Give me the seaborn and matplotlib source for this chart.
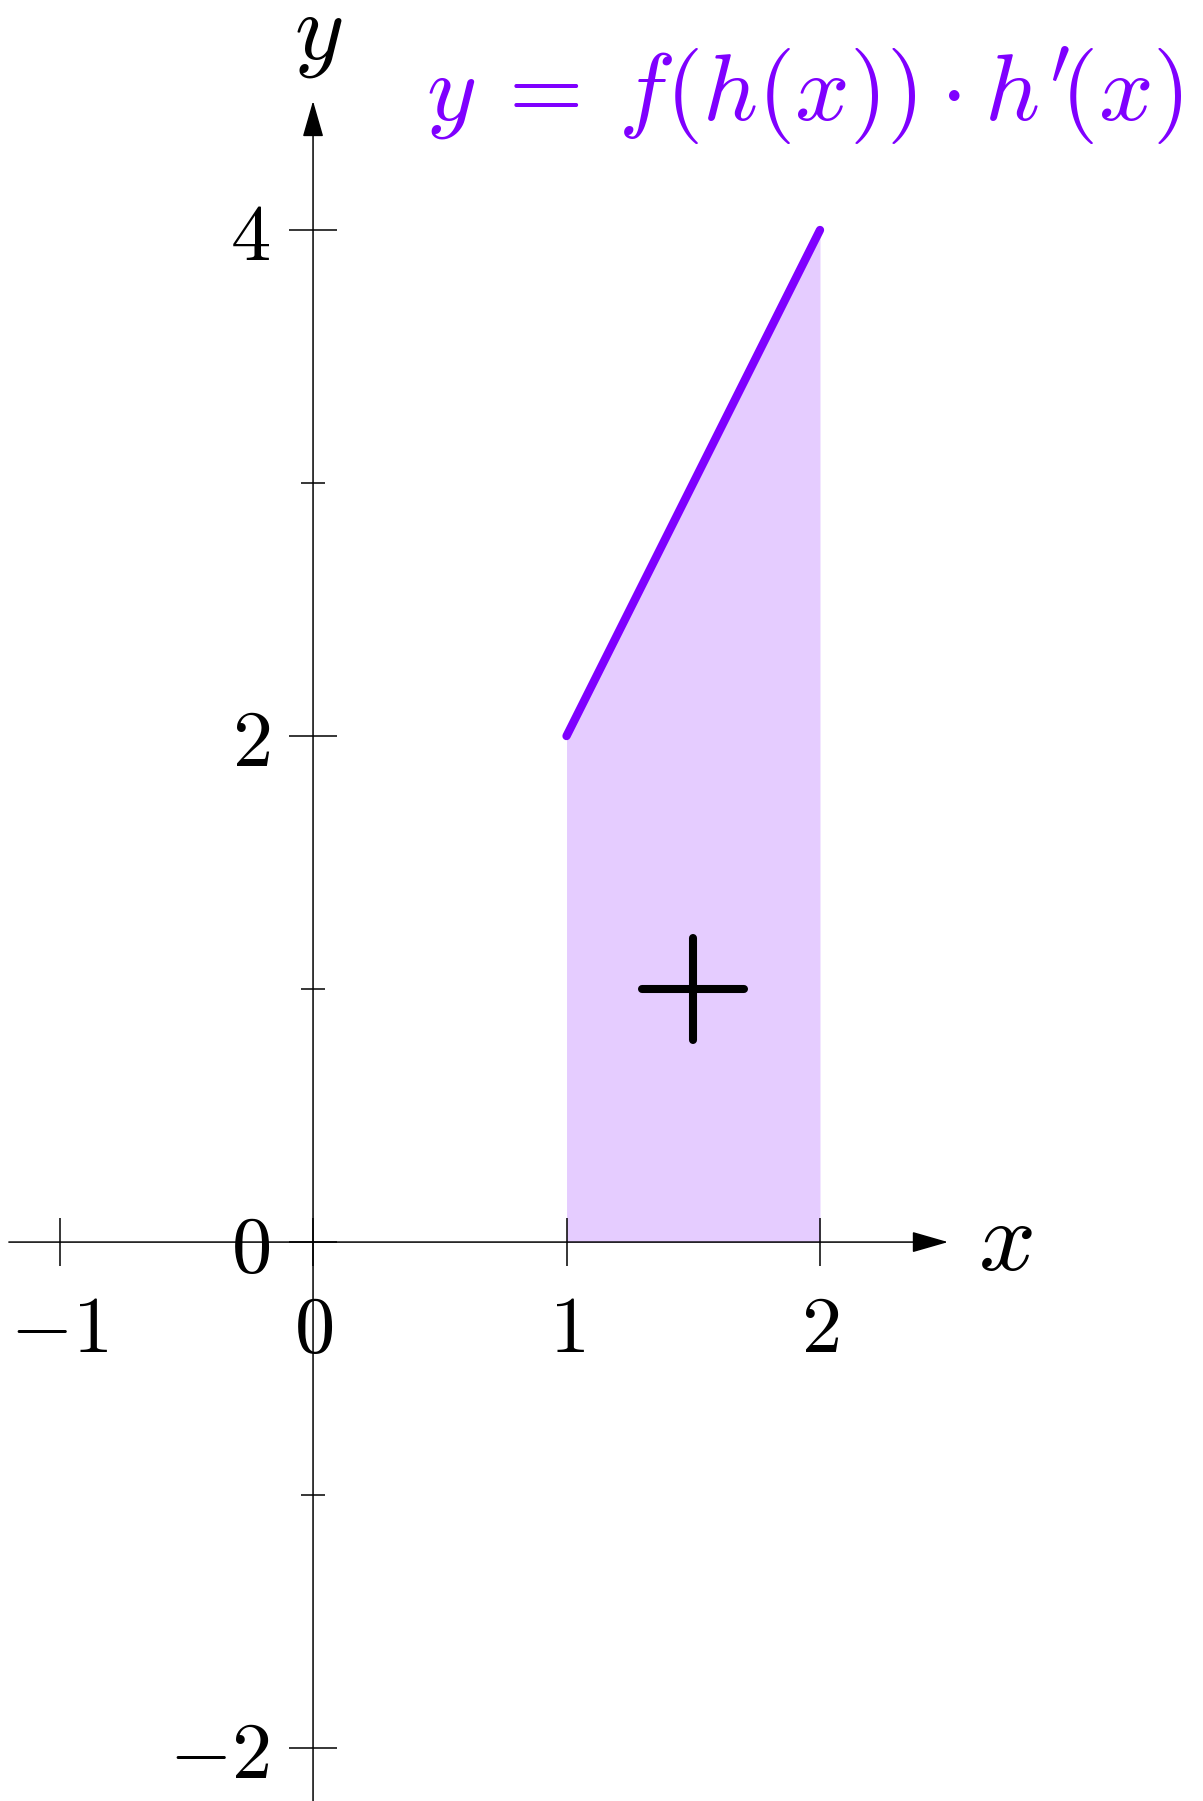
import matplotlib
matplotlib.use("Agg")
import matplotlib.pyplot as plt
from matplotlib.markers import MarkerStyle
import seaborn as sns

# -----------------------------
# Data
# -----------------------------
curve_x = [1, 2]
curve_y = [2, 4]

plus_x = [1.5]
plus_y = [1]

x_ticks = [-1, 0, 1, 2]
x_tick_labels = ["$-1$", "$0$", "$1$", "$2$"]
y_major_ticks = [-2, 0, 2, 4]
y_major_labels = ["$-2$", "$0$", "$2$", "$4$"]
y_minor_ticks = [-1, 1, 3]

formula = r"$y\:=\:f(h(x))\cdot h'\!(x)$"

PURPLE = "#7F00FF"

# -----------------------------
# Figure
# -----------------------------
sns.set_style("white")
plt.rcParams["mathtext.fontset"] = "cm"
plt.rcParams["text.color"] = "black"

fig = plt.figure(figsize=(12.03, 18.01), dpi=100)
ax = fig.add_axes([0, 0, 1, 1])
ax.set_xlim(-1.235, 3.511)
ax.set_ylim(-2.209, 4.909)
ax.axis("off")

# shaded area + line
ax.fill_between(curve_x, curve_y, 0, color=PURPLE, alpha=0.2, linewidth=0)
sns.lineplot(x=curve_x, y=curve_y, ax=ax, color=PURPLE, sort=False)
curve_line = ax.lines[-1]
curve_line.set_linewidth(6)
curve_line.set_solid_capstyle("round")

# axes with arrows
arrow_style = "-|>,head_length=0.4,head_width=0.115"
ax.annotate("", xy=(2.505, 0), xytext=(-1.2, 0),
            arrowprops=dict(arrowstyle=arrow_style, mutation_scale=57,
                            lw=1.1, color="black", shrinkA=0, shrinkB=0))
ax.annotate("", xy=(0, 4.51), xytext=(0, -2.25),
            arrowprops=dict(arrowstyle=arrow_style, mutation_scale=57,
                            lw=1.1, color="black", shrinkA=0, shrinkB=0))

# tick marks
ax.plot(x_ticks, [0] * len(x_ticks), linestyle="none", marker="|",
        markersize=34.5, markeredgewidth=1.1, color="black")
ax.plot([0] * len(y_major_ticks), y_major_ticks, linestyle="none", marker="_",
        markersize=34, markeredgewidth=1.1, color="black")
ax.plot([0] * len(y_minor_ticks), y_minor_ticks, linestyle="none", marker="_",
        markersize=17, markeredgewidth=1.1, color="black")

# tick labels
for xv, lab in zip(x_ticks, x_tick_labels):
    ax.text(xv, -0.347, lab, ha="center", va="center", fontsize=58,
            color="black")
for yv, lab in zip(y_major_ticks, y_major_labels):
    ax.text(-0.17, yv - 0.03, lab, ha="right", va="center", fontsize=58,
            color="black")

# axis labels
ax.text(2.73, 0, "$x$", ha="center", va="center", fontsize=72, color="black")
ax.text(0.02, 4.775, "$y$", ha="center", va="center", fontsize=68,
        color="black")

# plus sign
ax.plot(plus_x, plus_y, linestyle="none",
        marker=MarkerStyle("+", capstyle="round"),
        markersize=73, markeredgewidth=5.8, color="black")

# formula
ax.text(1.94, 4.43, formula, ha="center", va="baseline", fontsize=69,
        color=PURPLE)

fig.savefig("out.png", dpi=100)
plt.close(fig)
